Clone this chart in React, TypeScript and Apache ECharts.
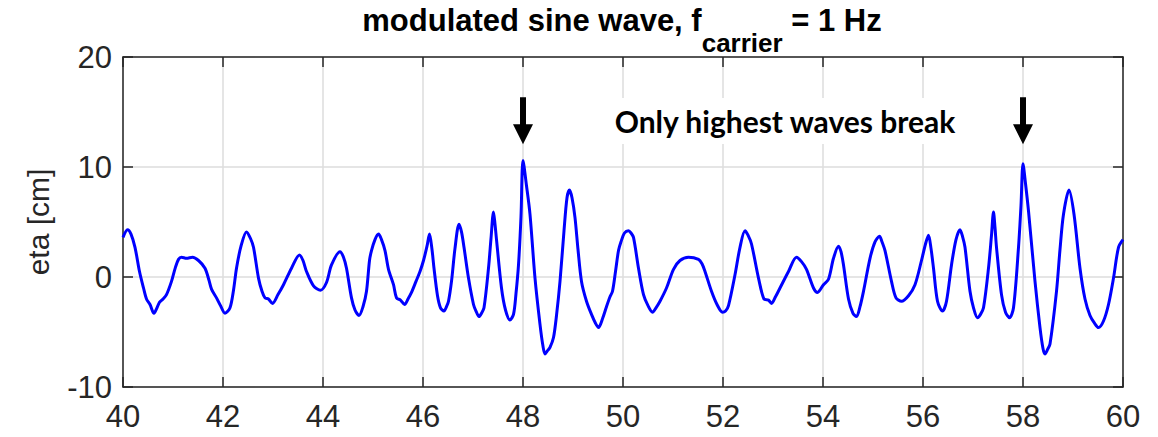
import React, { useEffect, useRef } from "react";
import * as echarts from "echarts";

// time [s]
const timeS = [
  40.0, 40.09, 40.16, 40.24, 40.33, 40.41, 40.47, 40.54, 40.62, 40.67, 40.73, 40.8, 40.87, 40.97,
  41.05, 41.11, 41.17, 41.27, 41.39, 41.51, 41.64, 41.72, 41.77, 41.87, 41.95,
  42.04, 42.14, 42.21, 42.27, 42.36, 42.47, 42.55, 42.61, 42.71, 42.78, 42.84, 42.91, 42.99,
  43.1, 43.21, 43.37, 43.53, 43.6, 43.67, 43.81, 43.95,
  44.07, 44.17, 44.34, 44.41, 44.47, 44.57, 44.64, 44.72, 44.8, 44.87, 44.93, 44.97,
  45.04, 45.11, 45.17, 45.24, 45.31, 45.41, 45.47, 45.55, 45.63, 45.7, 45.77, 45.86, 45.94,
  46.01, 46.08, 46.13, 46.18, 46.22, 46.29, 46.35, 46.42, 46.47, 46.51, 46.57, 46.64, 46.72, 46.77, 46.82, 46.91,
  47.01, 47.06, 47.12, 47.17, 47.22, 47.31, 47.36, 47.41, 47.44, 47.47, 47.57, 47.65, 47.74, 47.81, 47.86, 47.91, 47.96,
  48.0, 48.07, 48.14, 48.24, 48.34, 48.4, 48.44, 48.49, 48.54, 48.61, 48.67, 48.74, 48.82, 48.88, 48.93, 48.98,
  49.04, 49.1, 49.17, 49.27, 49.37, 49.45, 49.51, 49.59, 49.67, 49.74, 49.79, 49.85, 49.91, 49.96,
  50.03, 50.11, 50.16, 50.21, 50.31, 50.41, 50.5, 50.59, 50.66, 50.74, 50.87,
  51.01, 51.14, 51.31, 51.51, 51.58, 51.64, 51.77, 51.88, 51.99,
  52.05, 52.11, 52.24, 52.34, 52.44, 52.5, 52.57, 52.71, 52.82, 52.91, 52.97,
  53.05, 53.14, 53.31, 53.47, 53.57, 53.67, 53.81, 53.89,
  54.01, 54.11, 54.21, 54.31, 54.36, 54.41, 54.51, 54.6, 54.67, 54.74, 54.81, 54.94,
  55.04, 55.13, 55.18, 55.24, 55.37, 55.46, 55.57, 55.71, 55.84, 55.97,
  56.05, 56.11, 56.16, 56.21, 56.29, 56.39, 56.47, 56.57, 56.66, 56.74, 56.79, 56.84, 56.94,
  57.01, 57.09, 57.15, 57.21, 57.31, 57.37, 57.41, 57.44, 57.47, 57.57, 57.65, 57.73, 57.81, 57.91, 57.96,
  58.0, 58.05, 58.11, 58.24, 58.34, 58.4, 58.44, 58.49, 58.54, 58.67, 58.74, 58.81, 58.92,
  59.02, 59.14, 59.24, 59.34, 59.43, 59.51, 59.61, 59.71, 59.81, 59.91, 60.0,
];

// eta [cm]
const etaCm = [
  3.6, 4.3, 3.9, 2.7, 0.5, -1.0, -2.0, -2.5, -3.3, -2.9, -2.3, -2.0, -1.6, -0.4,
  0.9, 1.6, 1.8, 1.7, 1.8, 1.5, 0.8, -0.3, -1.1, -1.9, -2.6,
  -3.3, -2.8, -1.2, 0.8, 2.8, 4.1, 3.5, 2.7, -0.1, -1.3, -1.9, -2.0, -2.4,
  -1.6, -0.7, 0.8, 2.0, 1.5, 0.5, -0.8, -1.2,
  -0.5, 1.1, 2.3, 1.8, 0.8, -1.9, -3.0, -3.5, -2.7, -1.3, 1.5, 2.4,
  3.4, 3.9, 3.4, 2.4, 0.7, -0.7, -1.9, -2.1, -2.5, -2.0, -1.4, -0.4, 0.5,
  1.5, 2.8, 3.9, 2.5, 0.8, -1.7, -2.8, -3.1, -2.7, -2.2, -0.4, 2.6, 4.8, 4.1, 2.7, -0.1,
  -2.5, -3.1, -3.6, -3.3, -2.8, 0.8, 3.5, 5.9, 4.8, 3.4, -1.0, -3.0, -3.9, -3.4, -1.5, 1.1, 5.5,
  10.6, 8.3, 5.7, -0.1, -4.3, -6.3, -7.0, -6.7, -6.4, -5.5, -3.5, -0.4, 4.2, 7.2, 7.9, 7.2,
  5.4, 2.5, -0.4, -2.2, -3.4, -4.2, -4.6, -3.8, -2.7, -1.8, -1.3, 0.5, 2.4, 3.2,
  4.0, 4.2, 4.0, 3.6, 0.8, -1.6, -2.6, -3.2, -2.8, -2.2, -1.0,
  0.7, 1.5, 1.8, 1.6, 1.2, 0.5, -1.3, -2.5, -3.2,
  -3.1, -2.6, 0.2, 2.7, 4.2, 3.8, 3.0, -0.1, -2.0, -2.1, -2.4,
  -1.8, -1.0, 0.5, 1.8, 1.4, 0.7, -1.0, -1.4,
  -0.7, -0.2, 1.7, 2.8, 2.3, 1.1, -2.0, -3.3, -3.6, -2.7, -1.3, 1.7,
  3.2, 3.7, 3.2, 2.4, -0.4, -1.9, -2.2, -1.7, -0.7, 1.5,
  3.0, 3.8, 2.6, 0.8, -2.2, -3.1, -2.2, 1.1, 3.4, 4.3, 3.7, 2.7, -1.3,
  -2.8, -3.7, -3.4, -2.8, 0.8, 3.8, 5.9, 4.5, 2.7, -1.6, -3.2, -3.7, -2.8, 2.7, 6.5,
  10.3, 8.5, 6.0, -0.4, -4.6, -6.5, -7.0, -6.6, -6.1, -1.3, 2.5, 5.7, 7.9,
  5.7, 0.8, -2.0, -3.5, -4.2, -4.6, -4.0, -2.5, -0.1, 2.7, 3.4,
];

const xRange = [40, 60];
const xStep = 2;
const yRange = [-10, 20];
const yStep = 10;
const arrowTimes = [48, 58];
const arrowLevel = 14.2;

const titleMain = "modulated sine wave, f";
const titleSub = "carrier";
const titleTail = " = 1 Hz";
const yName = "eta [cm]";
const note = "Only highest waves break";

const AX = "#262626";
const GRIDC = "#dcdcdc";
const FAM = "Liberation Sans";

export default function App() {
  const ref = useRef<HTMLDivElement>(null);
  useEffect(() => {
    const chart = echarts.init(ref.current!, null, { renderer: "svg" });
    const data = timeS.map((t, i) => [t, etaCm[i]]);

    const mainSize = 31;
    const subSize = 26;
    const canvas = document.createElement("canvas");
    const ctx = canvas.getContext("2d")!;
    ctx.font = `bold ${mainSize}px "${FAM}"`;
    const w1 = ctx.measureText(titleMain).width;
    const w3 = ctx.measureText(titleTail).width;
    ctx.font = `bold ${subSize}px "${FAM}"`;
    const w2 = ctx.measureText(titleSub).width;
    const start = 622 - (w1 + w2 + w3) / 2;

    const commonX = {
      type: "value",
      min: xRange[0],
      max: xRange[1],
      interval: xStep,
      axisLine: { show: true, onZero: false, lineStyle: { color: AX, width: 1.5 } },
      axisTick: { show: true, inside: true, length: 10, lineStyle: { color: AX, width: 1.5 } },
    };
    const commonY = {
      type: "value",
      min: yRange[0],
      max: yRange[1],
      interval: yStep,
      axisLine: { show: true, onZero: false, lineStyle: { color: AX, width: 1.5 } },
      axisTick: { show: true, inside: true, length: 10, lineStyle: { color: AX, width: 1.5 } },
    };

    const titleStyle = (text: string, size: number) => ({
      text,
      fontSize: size,
      fontWeight: "bold",
      fontFamily: FAM,
      fill: "#000",
      align: "left",
      verticalAlign: "middle",
    });

    chart.setOption({
      animation: false,
      backgroundColor: "#ffffff",
      grid: { left: 123, right: 35, top: 57, bottom: 50 },
      xAxis: [
        {
          ...commonX,
          position: "bottom",
          axisLabel: { fontSize: 31, color: AX, margin: 14, fontFamily: FAM },
          splitLine: { show: true, lineStyle: { color: GRIDC, width: 1.5 } },
        },
        {
          ...commonX,
          position: "top",
          axisLabel: { show: false },
          splitLine: { show: false },
        },
      ],
      yAxis: [
        {
          ...commonY,
          position: "left",
          name: yName,
          nameLocation: "middle",
          nameGap: 70,
          nameTextStyle: { fontSize: 30, color: AX, fontFamily: FAM },
          axisLabel: { fontSize: 31, color: AX, margin: 11, fontFamily: FAM },
          splitLine: { show: true, lineStyle: { color: GRIDC, width: 1.5 } },
        },
        {
          ...commonY,
          position: "right",
          axisLabel: { show: false },
          splitLine: { show: false },
        },
      ],
      series: [
        {
          type: "line",
          data,
          showSymbol: false,
          smooth: 0.3,
          lineStyle: { color: "#0000ff", width: 3 },
          z: 2,
        },
        {
          type: "scatter",
          data: arrowTimes.map((t) => [t, arrowLevel]),
          symbol: "path://M7,0 L13,0 L13,27 L20,27 L10,47 L0,27 L7,27 Z",
          symbolSize: [20, 47],
          itemStyle: { color: "#000000", opacity: 1 },
          z: 5,
          silent: true,
        },
      ],
      graphic: [
        { type: "text", x: start, y: 20.5, style: titleStyle(titleMain, mainSize) },
        { type: "text", x: start + w1, y: 42.5, style: titleStyle(titleSub, subSize) },
        { type: "text", x: start + w1 + w2, y: 20.5, style: titleStyle(titleTail, mainSize) },
        {
          type: "text",
          x: 785,
          y: 121,
          z: 10,
          style: {
            text: note,
            fontSize: 30,
            fontWeight: "bold",
            fontFamily: "Lato",
            fill: "#000",
            align: "center",
            verticalAlign: "middle",
            backgroundColor: "#ffffff",
            padding: [8, 10, 8, 10],
          },
        },
      ],
    });
    return () => chart.dispose();
  }, []);
  return <div ref={ref} style={{ position: "fixed", left: 0, top: 0, width: 1158, height: 437 }} />;
}
